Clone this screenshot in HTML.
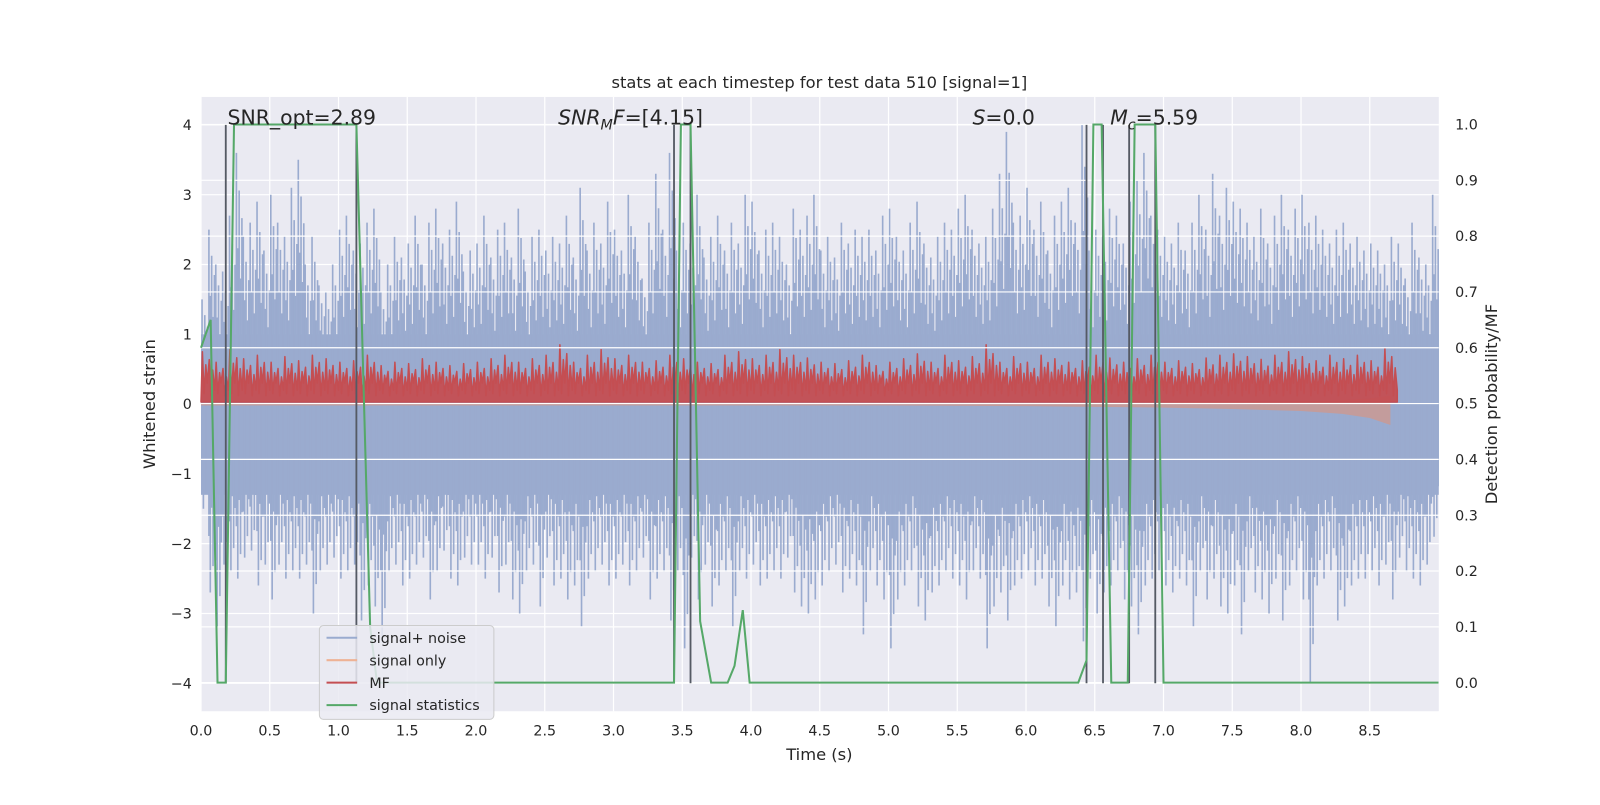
<!DOCTYPE html>
<html><head><meta charset="utf-8"><style>
body{margin:0;background:#fff;}
svg text{font-family:"DejaVu Sans","Liberation Sans",sans-serif;fill:#262626;}
</style></head><body>
<svg id="chart" width="1600" height="800" viewBox="0 0 1568 784" xmlns="http://www.w3.org/2000/svg">
<rect width="1568" height="784" fill="#fff"/>
<rect x="197" y="95" width="1213" height="602" fill="#eaeaf2"/>
<g id="lgrid"></g><g id="noise"></g><g id="chirp"></g><g id="mf"></g><g id="rgrid"></g><g id="vlines"></g><g id="stat"></g><g id="ticks"></g>
<text x="803" y="86" font-size="16" text-anchor="middle">stats at each timestep for test data 510 [signal=1]</text>
<text x="803" y="745" font-size="16" text-anchor="middle">Time (s)</text>
<text transform="translate(152,396) rotate(-90)" font-size="16" text-anchor="middle">Whitened strain</text>
<text transform="translate(1467,396) rotate(-90)" font-size="16" text-anchor="middle">Detection probability/MF</text>
<text x="223" y="122" font-size="20">SNR_opt=2.89</text>
<text x="547" y="122" font-size="20"><tspan font-style="italic">SNR</tspan><tspan font-style="italic" font-size="14" dy="5">M</tspan><tspan font-style="italic" dy="-5">F</tspan>=[4.15]</text>
<text x="953" y="122" font-size="20"><tspan font-style="italic">S</tspan>=0.0</text>
<text x="1088" y="122" font-size="20"><tspan font-style="italic">M</tspan><tspan font-style="italic" font-size="14" dy="5">c</tspan><tspan dy="-5">=5.59</tspan></text>
<g>
<rect x="313" y="613" width="171" height="92" rx="4" fill="#eaeaf2" fill-opacity="0.85" stroke="#cccccc"/>
<g><line x1="320" y1="625" x2="350" y2="625" stroke="#9aabcf" stroke-width="2"/><text x="362" y="630" font-size="14">signal+ noise</text></g>
<g><line x1="320" y1="647" x2="350" y2="647" stroke="#eeb295" stroke-width="2"/><text x="362" y="652" font-size="14">signal only</text></g>
<g><line x1="320" y1="669" x2="350" y2="669" stroke="#c44e52" stroke-width="2"/><text x="362" y="674" font-size="14">MF</text></g>
<g><line x1="320" y1="691" x2="350" y2="691" stroke="#55a868" stroke-width="2"/><text x="362" y="696" font-size="14">signal statistics</text></g>
</g>
</svg>
<script>
const noiseHi=[1.5,2.5,2.0,1.9,2.7,3.6,2.4,2.6,2.9,2.2,3.0,2.6,2.4,3.1,3.5,2.0,2.4,1.7,1.6,2.0,
2.5,2.7,2.2,2.3,2.6,2.8,1.6,2.0,2.4,2.1,2.3,2.7,2.0,2.6,2.8,2.3,2.5,2.9,1.9,2.2,
2.3,2.7,2.1,2.5,2.6,2.1,2.8,1.9,2.4,2.5,2.2,2.4,2.3,2.7,2.1,3.1,2.2,2.6,2.3,2.9,
2.5,2.2,3.0,2.4,1.8,2.6,3.3,2.5,3.6,2.2,2.6,2.3,3.0,2.1,2.4,2.7,2.2,2.6,2.3,3.0,
2.9,2.2,2.5,2.6,2.4,2.0,2.8,2.5,2.7,3.0,2.2,2.4,2.1,2.6,2.3,2.5,2.4,2.5,2.2,2.7,
2.8,2.4,2.2,2.6,2.9,2.3,2.1,2.4,2.6,2.5,2.8,3.0,2.5,2.3,2.4,2.8,3.3,3.9,2.6,2.7,
3.1,2.5,2.9,2.2,2.7,2.9,3.1,2.6,4.0,2.2,2.5,2.4,2.8,2.7,2.3,2.9,3.2,3.6,2.7,2.5,
2.4,2.3,2.6,2.2,2.6,3.0,2.5,3.3,2.7,3.1,2.9,2.8,2.6,2.4,2.8,2.3,2.7,3.0,2.5,2.8,
3.0,2.6,2.7,2.5,2.3,2.5,2.6,2.3,2.4,2.2,2.3,2.2,2.0,2.4,2.3,1.8,2.6,2.1,2.0,3.0];
const noiseLo=[-1.5,-2.7,-3.2,-2.3,-2.4,-2.5,-2.2,-2.1,-2.6,-2.3,-2.8,-2.3,-2.5,-2.4,-2.5,-2.3,-3.0,-2.4,-2.3,-2.2,
-2.5,-2.4,-2.3,-3.1,-2.6,-2.9,-3.4,-2.4,-2.3,-2.6,-2.5,-2.3,-2.2,-2.8,-2.4,-2.1,-2.5,-2.6,-2.2,-2.3,
-2.3,-2.5,-2.2,-2.7,-2.3,-2.8,-3.0,-2.4,-2.3,-2.9,-2.2,-2.6,-2.5,-2.8,-2.6,-3.2,-2.5,-2.4,-2.3,-2.6,
-2.5,-2.3,-2.6,-2.4,-2.2,-2.8,-2.5,-2.4,-3.1,-2.4,-3.5,-2.2,-2.8,-2.3,-2.9,-2.6,-2.4,-3.2,-2.4,-2.5,
-2.3,-2.6,-2.5,-2.4,-2.5,-2.2,-2.7,-2.9,-3.0,-2.8,-2.6,-2.4,-2.3,-2.7,-2.5,-2.6,-3.3,-2.4,-2.6,-2.8,
-3.5,-2.8,-2.6,-2.4,-2.9,-3.1,-2.7,-2.6,-2.4,-2.5,-2.6,-2.8,-2.4,-2.5,-3.5,-2.9,-2.7,-3.1,-2.6,-2.5,
-2.4,-2.6,-2.5,-2.9,-3.2,-2.6,-2.8,-2.7,-3.4,-2.5,-3.0,-2.7,-2.6,-2.4,-2.8,-2.9,-3.3,-2.6,-2.5,-2.4,
-2.6,-2.7,-2.5,-2.6,-3.2,-2.4,-2.8,-2.5,-2.9,-3.0,-2.6,-3.3,-2.4,-2.7,-2.8,-3.0,-2.5,-3.1,-2.6,-2.4,
-2.8,-4.0,-2.6,-2.5,-2.4,-3.1,-2.9,-2.6,-2.5,-2.5,-2.4,-2.6,-2.3,-2.8,-2.2,-2.4,-2.5,-2.6,-2.3,-1.9];
const mfPeaks=[0.75,0.6,0.78,0.65,0.7,0.6,0.68,0.62,0.7,0.65,0.6,0.62,0.7,0.55,0.6,0.58,0.65,0.6,0.55,0.58,0.6,0.65,0.7,0.6,0.65,0.7,0.85,0.6,0.7,0.78,0.65,0.7,0.6,0.62,0.7,0.65,0.6,0.58,0.7,0.75,0.65,0.7,0.78,0.7,0.66,0.6,0.58,0.62,0.7,0.55,0.6,0.65,0.72,0.6,0.7,0.62,0.68,0.85,0.6,0.68,0.6,0.7,0.65,0.6,0.62,0.7,0.66,0.6,0.65,0.7,0.6,0.62,0.58,0.66,0.7,0.72,0.68,0.64,0.7,0.75,0.68,0.62,0.7,0.65,0.7,0.62,0.8];
const chirpT=[0,5,6,7,7.5,8,8.3,8.5,8.65];
const chirpA=[0.02,0.02,0.03,0.05,0.07,0.1,0.14,0.2,0.3];
const statT=[0,0.07,0.12,0.18,0.24,1.13,1.23,1.28,3.44,3.49,3.56,3.63,3.71,3.83,3.88,3.94,3.99,6.38,6.44,6.49,6.55,6.62,6.74,6.79,6.94,7.0,9.0];
const statP=[0.6,0.65,0,0,1,1,0.1,0,0,1,1,0.11,0,0,0.03,0.13,0,0,0.04,1,1,0,0,1,1,0,0];
const markerT=[0.18,1.13,3.44,3.56,6.44,6.56,6.75,6.94];
const xTicks=[0,0.5,1,1.5,2,2.5,3,3.5,4,4.5,5,5.5,6,6.5,7,7.5,8,8.5];
const yLeftTicks=[-4,-3,-2,-1,0,1,2,3,4];
const yRightTicks=[0,0.1,0.2,0.3,0.4,0.5,0.6,0.7,0.8,0.9,1.0];

const NS='http://www.w3.org/2000/svg';
const X=t=>197+t*134.75, YL=v=>396-v*68.4, YR=p=>669-p*547;
function mk(tag,attrs,parent){const e=document.createElementNS(NS,tag);for(const k in attrs)e.setAttribute(k,attrs[k]);document.getElementById(parent).appendChild(e);return e;}

yLeftTicks.forEach(v=>{const l=mk('line',{x1:197,x2:1410,y1:YL(v),y2:YL(v),stroke:'#fff','stroke-width':1.2},'lgrid');

});
xTicks.forEach(t=>{const l=mk('line',{x1:X(t),x2:X(t),y1:95,y2:697,stroke:'#fff','stroke-width':1.2},'lgrid');

});

const core=mk('rect',{x:197,y:YL(1.0),width:1213,height:YL(-1.3)-YL(1.0),fill:'#9aabcf'},'noise');


const sub=[0,0.2,0.4,0.6,0.8], fac=[1,0.62,0.85,0.5,0.74], facL=[0.7,1,0.55,0.86,0.62];
noiseHi.forEach((h,i)=>{sub.forEach((o,j)=>{const t=(i+o)*0.05;
const l=mk('line',{x1:X(t)+1,x2:X(t)+1,y1:YL(h*fac[j]),y2:YL(noiseLo[i]*facL[j]),stroke:'#9aabcf','stroke-width':1.6},'noise');

});});

let cp='';chirpT.forEach((t,i)=>{cp+=(i?'L':'M')+X(t)+','+YL(chirpA[i]*0.4);});
for(let i=chirpT.length-1;i>=0;i--)cp+='L'+X(chirpT[i])+','+YL(-chirpA[i]);
const ch=mk('path',{d:cp+'Z',fill:'#c39c9c'},'chirp');



let md='M'+X(0)+','+YL(0.03);
mfPeaks.forEach((v,i)=>{const t=i*0.1;
md+='L'+X(t+0.01)+','+YL(v)+'L'+X(t+0.022)+','+YL(0.15)+'L'+X(t+0.035)+','+YL(v*0.75)+'L'+X(t+0.045)+','+YL(0.3)+'L'+X(t+0.06)+','+YL(v*0.85)+'L'+X(t+0.072)+','+YL(0.12)+'L'+X(t+0.085)+','+YL(v*0.65)+'L'+X(t+0.1)+','+YL(0.2);});
md+='L'+X(mfPeaks.length*0.1)+','+YL(0.03)+'Z';
const mf=mk('path',{d:md,fill:'#c44e52','fill-opacity':0.95,stroke:'#c44e52','stroke-width':1.5,'stroke-linejoin':'round'},'mf');



yRightTicks.forEach(p=>{const l=mk('line',{x1:197,x2:1410,y1:YR(p),y2:YR(p),stroke:'#fff','stroke-width':1.2},'rgrid');

});

markerT.forEach(t=>{const l=mk('line',{x1:X(t),x2:X(t),y1:YL(4),y2:YL(-4),stroke:'#555a64','stroke-width':1.8},'vlines');

});

const sp=statT.map((t,i)=>X(t)+','+YR(statP[i])).join(' ');
const st=mk('polyline',{points:sp,fill:'none',stroke:'#55a868','stroke-width':2},'stat');



xTicks.forEach(t=>{const tx=mk('text',{x:X(t),y:721,'font-size':14,'text-anchor':'middle'},'ticks');tx.textContent=t.toFixed(1);

});
yLeftTicks.forEach(v=>{const tx=mk('text',{x:188,y:YL(v)+5,'font-size':14,'text-anchor':'end'},'ticks');tx.textContent=v<0?'\u2212'+Math.abs(v):String(v);

});
yRightTicks.forEach(p=>{const tx=mk('text',{x:1426,y:YR(p)+5,'font-size':14},'ticks');tx.textContent=p.toFixed(1);

});
</script>
</body></html>
